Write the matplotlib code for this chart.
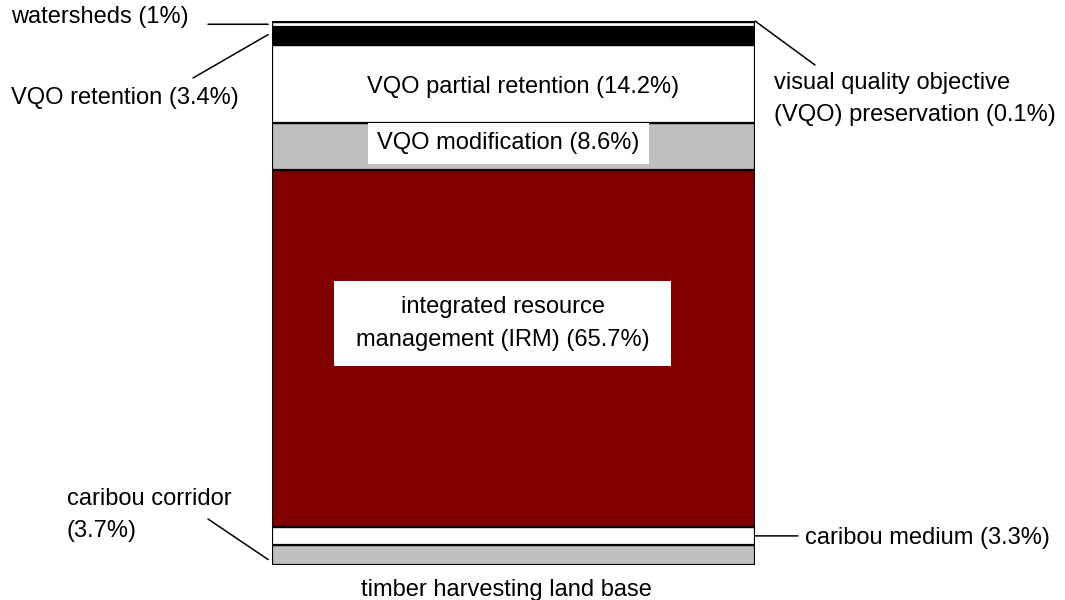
import matplotlib
matplotlib.use('Agg')
import matplotlib.pyplot as plt
from matplotlib.patches import Rectangle
import numpy as np

plt.rcParams['font.family'] = ['Liberation Sans', 'DejaVu Sans']

# zoning categories, bottom to top of the stacked bar
categories = ['caribou corridor', 'caribou medium', 'integrated resource management (IRM)',
              'VQO modification', 'VQO partial retention', 'VQO retention',
              'watersheds', 'visual quality objective (VQO) preservation']
shares = [3.7, 3.3, 65.7, 8.6, 14.2, 3.4, 1.0, 0.1]
colors = ['#c0c0c0', '#ffffff', '#800000', '#c0c0c0', '#ffffff', '#000000', '#ffffff', '#ffffff']
bar_label = 'timber harvesting land base'

W, H = 1065, 600
fig = plt.figure(figsize=(W / 100, H / 100), dpi=100)
# axes covers just the bar
ax = fig.add_axes([272 / W, 1 - 565 / H, (755 - 272) / W, (565 - 21) / H])

bottoms = np.concatenate([[0], np.cumsum(shares)[:-1]])
for s, b, c in zip(shares, bottoms, colors):
    ax.bar(0.5, s, bottom=b, width=1.0, color=c, edgecolor='black', linewidth=1.6)
ax.set_xlim(0, 1)
ax.set_ylim(0, sum(shares))
ax.axis('off')

fs = 17
tk = dict(fontsize=fs, color='black')

def mid(i):
    return bottoms[i] + shares[i] / 2

# labels inside the bar
ax.text(0.52, mid(4) - 0.5, f'VQO partial retention ({shares[4]}%)', ha='center', va='center', **tk)
ax.text(0.49, mid(3) + 0.5, f'VQO modification ({shares[3]}%)', ha='center', va='center',
        bbox=dict(boxstyle='square,pad=0.4', fc='white', ec='none'), **tk)
# white box behind the IRM label (figure pixels, from top)
fig.patches.append(Rectangle((334 / W, 1 - 366 / H), (671 - 334) / W, (366 - 281) / H,
                             transform=fig.transFigure, fc='white', ec='none', zorder=5))
fig.text(503 / W, 1 - 323.5 / H, f'integrated resource\nmanagement (IRM) ({shares[2]}%)',
         ha='center', va='center', linespacing=1.6, zorder=6, **tk)

# x label under the bar
fig.text(506 / W, 1 - 590 / H, bar_label, ha='center', va='center', **tk)

lk = dict(arrowprops=dict(arrowstyle='-', color='black', lw=1.1, shrinkA=0, shrinkB=0),
          textcoords='figure pixels', annotation_clip=False)

def leader(xy, start):
    ax.annotate('', xy=xy, xytext=(start[0], H - start[1]), **lk)

# outside labels with leader lines
fig.text(11 / W, 1 - 17 / H, f'{categories[6]} ({shares[6]:g}%)', ha='left', va='center', **tk)
leader((-0.008, 99.4), (208, 565 - 99.4 * 544 / 100))

fig.text(11 / W, 1 - 98 / H, f'{categories[5]} ({shares[5]}%)', ha='left', va='center', **tk)
leader((-0.008, mid(5) + 0.3), (193, 78))

fig.text(774 / W, 1 - 99 / H, f'visual quality objective\n(VQO) preservation ({shares[7]}%)',
         ha='left', va='center', linespacing=1.55, **tk)
leader((1.0, 100), (815, 65))

fig.text(67 / W, 1 - 515 / H, f'{categories[0]}\n({shares[0]}%)', ha='left', va='center',
         linespacing=1.6, **tk)
leader((-0.008, 1.0), (208, 519))

fig.text(805 / W, 1 - 538 / H, f'{categories[1]} ({shares[1]}%)', ha='left', va='center', **tk)
leader((1.0, mid(1)), (798, 565 - mid(1) * 544 / 100))

fig.savefig('out.png', dpi=100, facecolor='white')
